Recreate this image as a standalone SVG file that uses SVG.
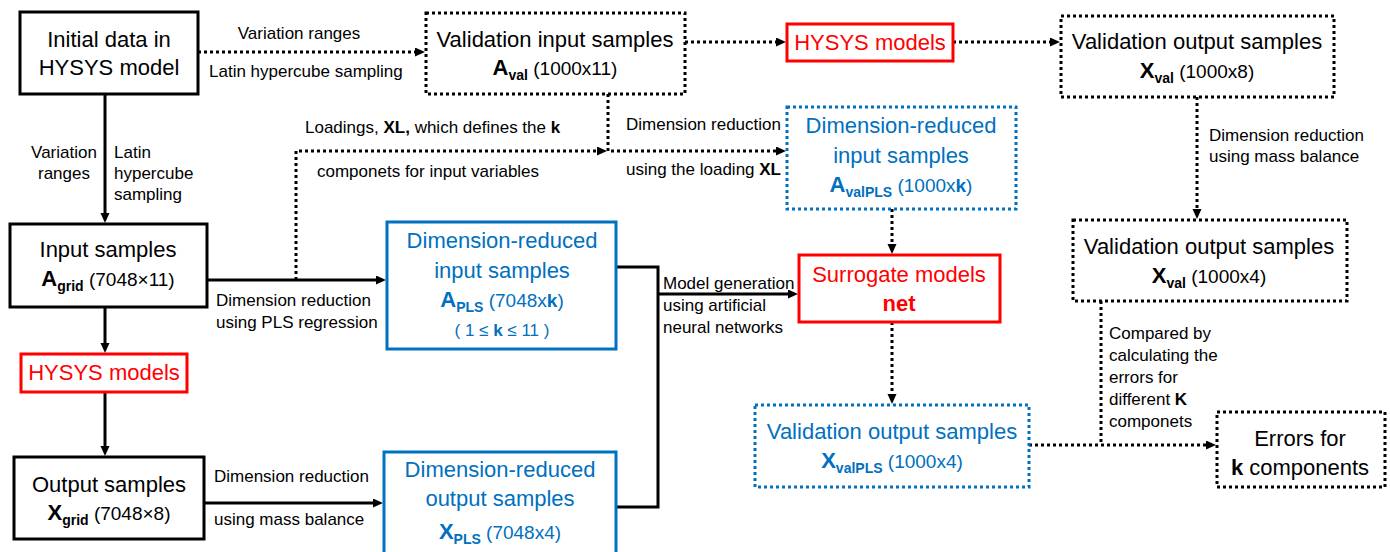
<svg xmlns="http://www.w3.org/2000/svg" width="1390" height="552" viewBox="0 0 1390 552">
<style>
text{font-family:"Liberation Sans",Arial,sans-serif;fill:#000}
.n{font-size:22px;text-anchor:middle}
.lb{font-size:17px}
.lc{font-size:17px;text-anchor:middle}
.b{font-weight:bold}
.sub{font-size:14px;font-weight:bold}
.dim{font-size:19px}
.sm{font-size:17px}
.blue{fill:#0070C0}
.red{fill:#FF0000}
.box{fill:#fff;stroke:#000;stroke-width:3}
.dot{stroke-dasharray:3 3}
.bb{stroke:#0070C0}
.rb{stroke:#FF0000}
.c{fill:none;stroke:#000;stroke-width:3}
</style>
<defs>
<marker id="ah" markerUnits="userSpaceOnUse" markerWidth="11" markerHeight="10" refX="1" refY="4.5" orient="auto">
<path d="M0,0 L10,4.5 L0,9 z" fill="#000"/>
</marker>
</defs>

<g id="connectors">
<path class="c dot" d="M198,52 H416" marker-end="url(#ah)"/>
<path class="c" d="M105,94 V214" marker-end="url(#ah)"/>
<path class="c" d="M105,307 V344" marker-end="url(#ah)"/>
<path class="c" d="M105,392 V447" marker-end="url(#ah)"/>
<path class="c" d="M207,280 H377" marker-end="url(#ah)"/>
<path class="c dot" d="M296,280 V151 H598" marker-end="url(#ah)"/>
<path class="c dot" d="M608,94 V151 H777" marker-end="url(#ah)"/>
<path class="c" d="M204,503 H374" marker-end="url(#ah)"/>
<path class="c" d="M616,267 H658 V507 H616"/>
<path class="c" d="M658,294 H789" marker-end="url(#ah)"/>
<path class="c dot" d="M685,42 H777" marker-end="url(#ah)"/>
<path class="c dot" d="M953,42 H1051" marker-end="url(#ah)"/>
<path class="c dot" d="M1197,97 V210" marker-end="url(#ah)"/>
<path class="c dot" d="M892,209 V245" marker-end="url(#ah)"/>
<path class="c dot" d="M892,322 V395" marker-end="url(#ah)"/>
<path class="c dot" d="M1029,445 H1207" marker-end="url(#ah)"/>
<path class="c dot" d="M1101,301 V445"/>
</g>

<g id="labels">
<text class="lc" x="299" y="39">Variation ranges</text>
<text class="lb" x="209" y="77">Latin hypercube sampling</text>
<text class="lc" x="64" y="158">Variation</text>
<text class="lc" x="64" y="179">ranges</text>
<text class="lb" x="114" y="158">Latin</text>
<text class="lb" x="114" y="179">hypercube</text>
<text class="lb" x="114" y="200">sampling</text>
<text class="lb" x="305" y="133">Loadings, <tspan class="b">XL,</tspan> which defines the <tspan class="b">k</tspan></text>
<text class="lb" x="317" y="177">componets for input variables</text>
<text class="lb" x="626" y="130">Dimension reduction</text>
<text class="lb" x="626" y="175">using the loading <tspan class="b">XL</tspan></text>
<text class="lb" x="216" y="306">Dimension reduction</text>
<text class="lb" x="216" y="328">using PLS regression</text>
<text class="lb" x="214" y="482">Dimension reduction</text>
<text class="lb" x="214" y="525">using mass balance</text>
<text class="lb" x="663" y="289">Model generation</text>
<text class="lb" x="663" y="311">using artificial</text>
<text class="lb" x="663" y="333">neural networks</text>
<text class="lb" x="1209" y="141">Dimension reduction</text>
<text class="lb" x="1209" y="162">using mass balance</text>
<text class="lb" x="1109" y="339">Compared by</text>
<text class="lb" x="1109" y="361">calculating the</text>
<text class="lb" x="1109" y="383">errors for</text>
<text class="lb" x="1109" y="405">different <tspan class="b">K</tspan></text>
<text class="lb" x="1109" y="427">componets</text>
</g>

<g id="init">
<rect class="box" x="20" y="12" width="178" height="82"/>
<text class="n" x="109" y="47">Initial data in</text>
<text class="n" x="109" y="75">HYSYS model</text>
</g>

<g id="input">
<rect class="box" x="10" y="224" width="197" height="83"/>
<text class="n" x="108" y="257">Input samples</text>
<text class="n" x="108" y="286"><tspan class="b">A</tspan><tspan class="sub" dy="5">grid</tspan><tspan class="dim" dy="-5"> (7048×11)</tspan></text>
</g>

<g id="hysys1">
<rect class="box rb" x="21" y="354" width="166" height="38"/>
<text class="n red" x="104" y="380">HYSYS models</text>
</g>

<g id="output">
<rect class="box" x="14" y="457" width="190" height="82"/>
<text class="n" x="109" y="492">Output samples</text>
<text class="n" x="109" y="520"><tspan class="b">X</tspan><tspan class="sub" dy="5">grid</tspan><tspan class="dim" dy="-5"> (7048×8)</tspan></text>
</g>

<g id="valin">
<rect class="box dot" x="426" y="13" width="259" height="81"/>
<text class="n" x="555" y="47">Validation input samples</text>
<text class="n" x="555" y="75"><tspan class="b">A</tspan><tspan class="sub" dy="5">val</tspan><tspan class="dim" dy="-5"> (1000x11)</tspan></text>
</g>

<g id="hysys2">
<rect class="box rb" x="787" y="24" width="166" height="37"/>
<text class="n red" x="870" y="50">HYSYS models</text>
</g>

<g id="valout1">
<rect class="box dot" x="1061" y="16" width="273" height="81"/>
<text class="n" x="1197" y="49">Validation output samples</text>
<text class="n" x="1197" y="78"><tspan class="b">X</tspan><tspan class="sub" dy="5">val</tspan><tspan class="dim" dy="-5"> (1000x8)</tspan></text>
</g>

<g id="valout2">
<rect class="box dot" x="1073" y="220" width="274" height="81"/>
<text class="n" x="1209" y="254">Validation output samples</text>
<text class="n" x="1209" y="283"><tspan class="b">X</tspan><tspan class="sub" dy="5">val</tspan><tspan class="dim" dy="-5"> (1000x4)</tspan></text>
</g>

<g id="drvalin">
<rect class="box dot bb" x="787" y="107" width="229" height="102"/>
<text class="n blue" x="901" y="133">Dimension-reduced</text>
<text class="n blue" x="901" y="163">input samples</text>
<text class="n blue" x="901" y="192"><tspan class="b">A</tspan><tspan class="sub" dy="5">valPLS</tspan><tspan class="dim" dy="-5"> (1000x<tspan class="b">k</tspan>)</tspan></text>
</g>

<g id="drin">
<rect class="box bb" x="387" y="222" width="229" height="127"/>
<text class="n blue" x="502" y="248">Dimension-reduced</text>
<text class="n blue" x="502" y="278">input samples</text>
<text class="n blue" x="502" y="307"><tspan class="b">A</tspan><tspan class="sub" dy="5">PLS</tspan><tspan class="dim" dy="-5"> (7048x<tspan class="b">k</tspan>)</tspan></text>
<text class="n blue sm" x="502" y="336">( 1 ≤ <tspan class="b">k</tspan> ≤ 11 )</text>
</g>

<g id="drout">
<rect class="box bb" x="384" y="452" width="232" height="112"/>
<text class="n blue" x="500" y="477">Dimension-reduced</text>
<text class="n blue" x="500" y="506">output samples</text>
<text class="n blue" x="500" y="539"><tspan class="b">X</tspan><tspan class="sub" dy="5">PLS</tspan><tspan class="dim" dy="-5"> (7048x4)</tspan></text>
</g>

<g id="surrogate">
<rect class="box rb" x="799" y="255" width="201" height="67"/>
<text class="n red" x="899" y="282">Surrogate models</text>
<text class="n red b" x="899" y="311">net</text>
</g>

<g id="valoutpls">
<rect class="box dot bb" x="755" y="405" width="274" height="82"/>
<text class="n blue" x="892" y="439">Validation output samples</text>
<text class="n blue" x="892" y="468"><tspan class="b">X</tspan><tspan class="sub" dy="5">valPLS</tspan><tspan class="dim" dy="-5"> (1000x4)</tspan></text>
</g>

<g id="errors">
<rect class="box dot" x="1217" y="412" width="168" height="75"/>
<text class="n" x="1300" y="446">Errors for</text>
<text class="n" x="1300" y="475"><tspan class="b">k</tspan> components</text>
</g>
</svg>
